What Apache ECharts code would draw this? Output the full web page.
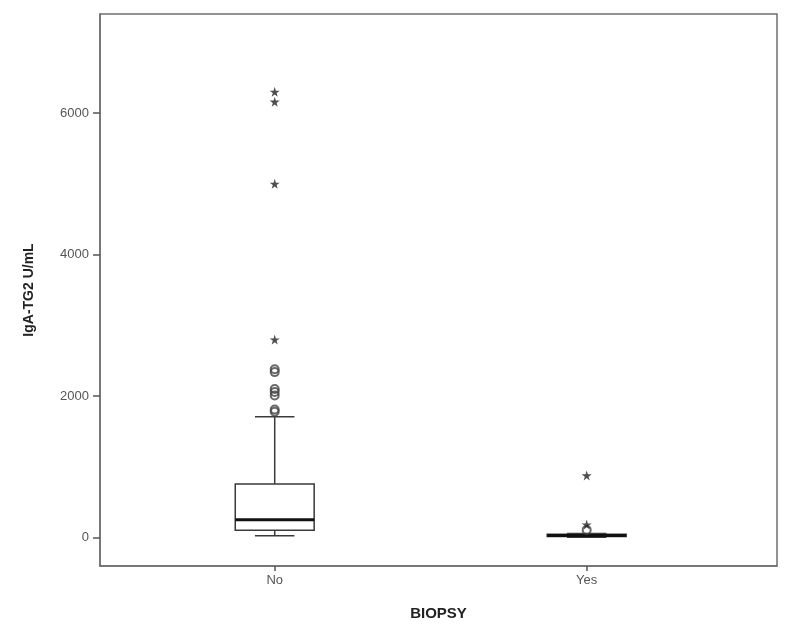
<!DOCTYPE html>
<html><head><meta charset="utf-8">
<script src="https://cdn.jsdelivr.net/npm/echarts@6/dist/echarts.min.js"></script>
<style>html,body{margin:0;padding:0;background:#fff}#c{width:792px;height:630px}</style>
</head><body><div id="c"></div>
<script>
const categories = ['No', 'Yes'];
const whiskerLow = [28, 8];
const quartile1 = [105, 18];
const medians = [255, 30];
const quartile3 = [760, 48];
const whiskerHigh = [1710, 60];
const noCircles = [1780, 1810, 2010, 2060, 2100, 2340, 2380];
const noStars = [2800, 5000, 6160, 6300];
const yesCircles = [110];
const yesStars = [185, 880];
const yTicks = [0, 2000, 4000, 6000];

const boxData = categories.map((c, i) => [i + 1, whiskerLow[i], quartile1[i], medians[i], quartile3[i], whiskerHigh[i]]);
const circleData = noCircles.map(v => [1, v]).concat(yesCircles.map(v => [2, v]));
const starData = noStars.map(v => [1, v]).concat(yesStars.map(v => [2, v]));
const STAR = 'path://M50,0 L61,35 L98,35 L68,57 L79,91 L50,70 L21,91 L32,57 L2,35 L39,35 Z';
const FONT = 'Liberation Sans, Arial, sans-serif';

const chart = echarts.init(document.getElementById('c'));
chart.setOption({
  animation: false,
  backgroundColor: '#fff',
  grid: { left: 100, right: 15, top: 14, bottom: 64, show: true, borderColor: '#6f6f6f', borderWidth: 1.5 },
  xAxis: {
    type: 'value', min: 0.44, max: 2.61,
    name: 'BIOPSY', nameLocation: 'middle', nameGap: 40,
    nameTextStyle: { fontFamily: FONT, fontWeight: 'bold', fontSize: 15, color: '#222' },
    axisLine: { show: true, onZero: false, lineStyle: { color: '#6f6f6f', width: 1.5 } },
    axisTick: { show: true, customValues: [1, 2], length: 5, lineStyle: { color: '#555', width: 1.5 } },
    axisLabel: { customValues: [1, 2], margin: 8, fontFamily: FONT, fontSize: 13, color: '#555',
      formatter: v => categories[Math.round(v) - 1] || '' },
    splitLine: { show: false }
  },
  yAxis: {
    type: 'value', min: -400, max: 7400,
    name: 'IgA-TG2 U/mL', nameLocation: 'middle', nameGap: 64,
    nameTextStyle: { fontFamily: FONT, fontWeight: 'bold', fontSize: 14, color: '#222' },
    axisLine: { show: true, onZero: false, lineStyle: { color: '#6f6f6f', width: 1.5 } },
    axisTick: { show: true, customValues: yTicks, length: 7, lineStyle: { color: '#555', width: 1.5 } },
    axisLabel: { customValues: yTicks, margin: 11, fontFamily: FONT, fontSize: 13, color: '#555',
      formatter: v => String(v) },
    splitLine: { show: false }
  },
  series: [
    {
      type: 'custom',
      data: boxData,
      renderItem: function (params, api) {
        const x = api.value(0);
        const half = api.size([0.253, 0])[0] / 2;
        const cap = half / 2;
        const pLow = api.coord([x, api.value(1)]);
        const pQ1 = api.coord([x, api.value(2)]);
        const pMed = api.coord([x, api.value(3)]);
        const pQ3 = api.coord([x, api.value(4)]);
        const pHigh = api.coord([x, api.value(5)]);
        const cx = pMed[0];
        const ls = { stroke: '#3a3a3a', lineWidth: 1.5, fill: null };
        return {
          type: 'group',
          children: [
            { type: 'line', shape: { x1: cx, y1: pQ3[1], x2: cx, y2: pHigh[1] }, style: ls },
            { type: 'line', shape: { x1: cx, y1: pQ1[1], x2: cx, y2: pLow[1] }, style: ls },
            { type: 'line', shape: { x1: cx - cap, y1: pHigh[1], x2: cx + cap, y2: pHigh[1] }, style: ls },
            { type: 'line', shape: { x1: cx - cap, y1: pLow[1], x2: cx + cap, y2: pLow[1] }, style: ls },
            { type: 'rect', shape: { x: cx - half, y: pQ3[1], width: 2 * half, height: pQ1[1] - pQ3[1] },
              style: { stroke: '#3a3a3a', lineWidth: 1.5, fill: '#fff' } },
            { type: 'line', shape: { x1: cx - half, y1: pMed[1], x2: cx + half, y2: pMed[1] },
              style: { stroke: '#111', lineWidth: 3 } }
          ]
        };
      },
      z: 2
    },
    {
      type: 'scatter', data: circleData, symbol: 'circle', symbolSize: 8,
      itemStyle: { color: 'rgba(255,255,255,0)', borderColor: '#444', borderWidth: 2 }, z: 3
    },
    {
      type: 'scatter', data: starData, symbol: STAR, symbolSize: 10,
      itemStyle: { color: '#222' }, z: 4
    }
  ]
});
</script>
</body></html>
